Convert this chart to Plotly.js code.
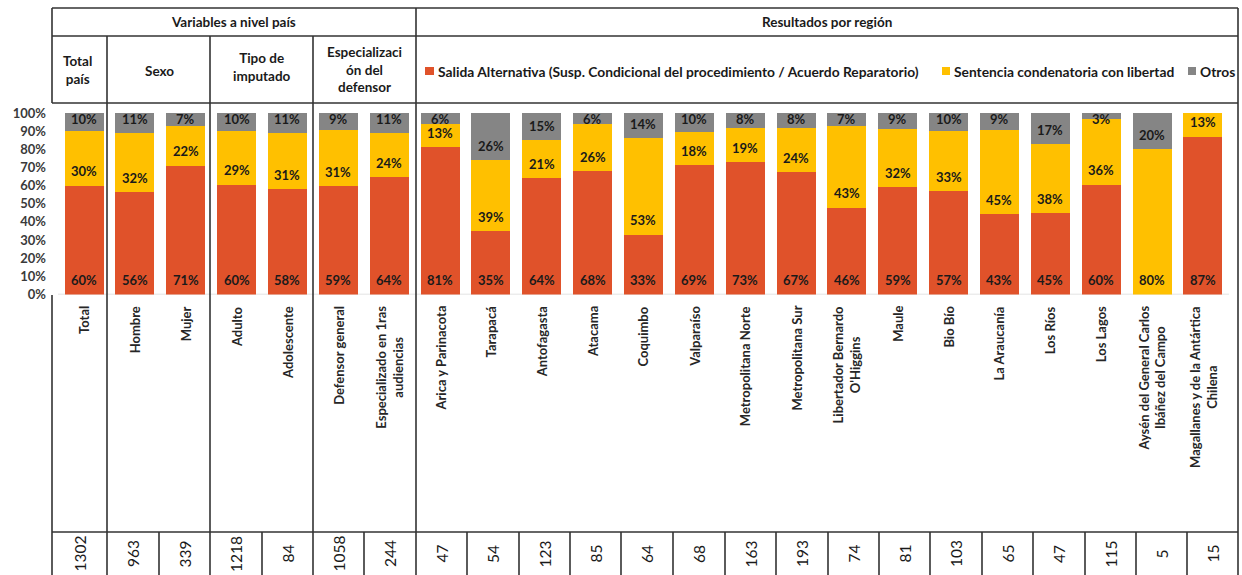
<!DOCTYPE html>
<html>
<head>
<meta charset="utf-8">
<script src="https://cdn.plot.ly/plotly-3.0.1.min.js"></script>
<style>html,body{margin:0;padding:0;background:#fff;}#chart{width:1242px;height:575px;}</style>
</head>
<body>
<div id="chart"></div>
<script>
// ---------------- DATA ----------------
const categories = ["Total","Hombre","Mujer","Adulto","Adolescente","Defensor general","Especializado en 1ras audiencias","Arica y Parinacota","Tarapacá","Antofagasta","Atacama","Coquimbo","Valparaíso","Metropolitana Norte","Metropolitana Sur","Libertador Bernardo O'Higgins","Maule","Bio Bío","La Araucanía","Los Ríos","Los Lagos","Aysén del General Carlos Ibáñez del Campo","Magallanes y de la Antártica Chilena"];
const categoryLabels = ["Total","Hombre","Mujer","Adulto","Adolescente","Defensor general","Especializado en 1ras<br>audiencias","Arica y Parinacota","Tarapacá","Antofagasta","Atacama","Coquimbo","Valparaíso","Metropolitana Norte","Metropolitana Sur","Libertador Bernardo<br>O'Higgins","Maule","Bio Bío","La Araucanía","Los Ríos","Los Lagos","Aysén del General Carlos<br>Ibáñez del Campo","Magallanes y de la Antártica<br>Chilena"];
const salidaAlternativa = [60,56,71,60,58,59,64,81,35,64,68,33,69,73,67,46,59,57,43,45,60,0,87];
const sentenciaLibertad = [30,32,22,29,31,31,24,13,39,21,26,53,18,19,24,43,32,33,45,38,36,80,13];
const otros = [10,11,7,10,11,9,11,6,26,15,6,14,10,8,8,7,9,10,9,17,3,20,0];
const casos = [1302,963,339,1218,84,1058,244,47,54,123,85,64,68,163,193,74,81,103,65,47,115,5,15];
const seriesNames = ["Salida Alternativa (Susp. Condicional del procedimiento / Acuerdo Reparatorio)","Sentencia condenatoria con libertad","Otros"];
const topHeaders = ["Variables a nivel país","Resultados por región"];
const groupHeaders = ["Total<br>país","Sexo","Tipo de<br>imputado","Especializaci<br>ón del<br>defensor"];

// ---------------- STYLE / LAYOUT CONSTANTS ----------------
const W = 1242, H = 575;
const colors = ["#E0522A","#FFC000","#858585"];
const FONT = "Lato, 'Open Sans', sans-serif";
const LINE = {color:"#333333", width:1.6};
const px = v => v / W;
const py = v => 1 - v / H;
const colBounds = [52,107,159,210,262,313,364,416,467,519,570,621,673,725,776,828,879,930,982,1033,1085,1136,1187,1238];
const groupBounds = [107,210,313];
const step = 50.86, firstCenter = 84;

const series = [salidaAlternativa, sentenciaLibertad, otros];
const traces = series.map((vals, s) => ({
  type: "bar",
  name: seriesNames[s],
  x: categories,
  y: vals,
  marker: {color: colors[s]},
  hoverinfo: "x+y+name"
}));

const annotations = [];
// bar value labels (inside base)
categories.forEach((c, i) => {
  const total = series.reduce((a, arr) => a + arr[i], 0);
  let base = 0;
  series.forEach((arr, s) => {
    const v = arr[i];
    if (v > 0) {
      annotations.push({
        x: i, xref: "x", y: Math.min(base + 0.078, 0.966), yref: "y",
        text: "<b>" + v + "%</b>", showarrow: false, xanchor: "center", yanchor: "middle",
        font: {family: FONT, size: 13, color: "#1a1a1a"}
      });
    }
    base += v / total;
  });
});
// category labels (rotated)
categoryLabels.forEach((t, i) => {
  annotations.push({
    x: i, xref: "x", y: py(304), yref: "paper", text: "<b>" + t + "</b>", textangle: -90,
    showarrow: false, xanchor: "center", yanchor: "top", align: "center",
    font: {family: FONT, size: 13, color: "#262626"}
  });
});
// counts row
casos.forEach((n, i) => {
  annotations.push({
    x: px((colBounds[i] + colBounds[i+1]) / 2), xref: "paper", y: py(554), yref: "paper",
    text: String(n), textangle: -90, showarrow: false, xanchor: "center", yanchor: "middle",
    font: {family: FONT, size: 15.5, color: "#1a1a1a"}
  });
});
// headers
const hdrFont = {family: FONT, size: 13.5, color: "#1a1a1a"};
const hdr = (x, y, t) => annotations.push({x: px(x), y: py(y), xref: "paper", yref: "paper", text: "<b>" + t + "</b>", showarrow: false, xanchor: "center", yanchor: "middle", align: "center", font: hdrFont});
hdr(233, 22, topHeaders[0]);
hdr(827, 22, topHeaders[1]);
const groupCenters = [77, 159, 262, 364];
const groupY = [70, 71, 67, 69];
groupHeaders.forEach((t, k) => hdr(groupCenters[k], groupY[k], t));
// legend (manual)
const legendSq = [[425,434],[942,950],[1188,1196]];
const legendTx = [436, 952, 1198];
const shapes = [];
seriesNames.forEach((nm, s) => {
  shapes.push({type: "rect", xref: "paper", yref: "paper", x0: px(legendSq[s][0]), x1: px(legendSq[s][1]), y0: py(75), y1: py(67), fillcolor: colors[s], line: {width: 0}});
  annotations.push({x: px(legendTx[s]), y: py(71), xref: "paper", yref: "paper", text: "<b>" + nm + "</b>", showarrow: false, xanchor: "left", yanchor: "middle", font: {family: FONT, size: 13.8, color: "#1a1a1a"}});
});

// table lines
const hl = (y, x0, x1) => shapes.push({type: "line", xref: "paper", yref: "paper", x0: px(x0), x1: px(x1), y0: py(y), y1: py(y), line: LINE});
const vl = (x, y0, y1) => shapes.push({type: "line", xref: "paper", yref: "paper", x0: px(x), x1: px(x), y0: py(y0), y1: py(y1), line: LINE});
[8, 36, 103, 532].forEach(y => hl(y, 52, 1238));
vl(52, 8, 103); vl(52, 295, 575);
vl(416, 8, 575); vl(1238, 8, 575);
groupBounds.forEach(x => vl(x, 36, 575));
colBounds.forEach(x => { if (x !== 52 && x !== 416 && x !== 1238 && groupBounds.indexOf(x) < 0) vl(x, 532, 575); });
// baseline of the plot area
shapes.push({type: "line", xref: "paper", yref: "y", x0: px(58), x1: px(1229), y0: 0, y1: 0, line: {color: "#d9d9d9", width: 1.5}, layer: "below"});

const layout = {
  width: W, height: H,
  margin: {l: 0, r: 0, t: 0, b: 0},
  paper_bgcolor: "#ffffff", plot_bgcolor: "#ffffff",
  barmode: "stack", barnorm: "fraction", bargap: 0.233,
  showlegend: false,
  font: {family: FONT},
  xaxis: {
    type: "category", domain: [0, 1],
    range: [-firstCenter / step, (W - firstCenter) / step],
    showticklabels: false, showgrid: false, zeroline: false, showline: false, ticks: "", fixedrange: true
  },
  yaxis: {
    domain: [py(294.5), py(113)], range: [0, 1],
    anchor: "free", position: px(46),
    dtick: 0.1, tickformat: ".0%", ticks: "",
    showgrid: false, zeroline: false, showline: false, fixedrange: true,
    tickfont: {family: FONT, size: 13, color: "#3a3a3a", weight: 700}
  },
  shapes: shapes,
  annotations: annotations
};

Plotly.newPlot("chart", traces, layout, {displayModeBar: false, staticPlot: true});
</script>
</body>
</html>
